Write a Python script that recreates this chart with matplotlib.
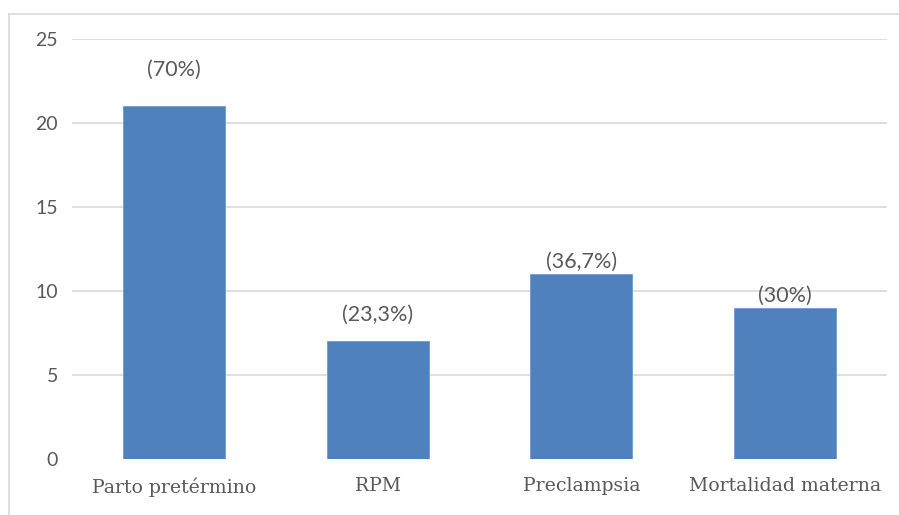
import matplotlib
matplotlib.use("Agg")
import matplotlib.pyplot as plt
from matplotlib.lines import Line2D

categories = ["Parto pretérmino", "RPM", "Preclampsia", "Mortalidad materna"]
counts = [21, 7, 11, 9]
pct_labels = ["(70%)", "(23,3%)", "(36,7%)", "(30%)"]
label_offsets_pt = [26, 19, 8.6, 8.6]  # height of each data label's centre above its bar
y_ticks = [0, 5, 10, 15, 20, 25]

bar_color = "#4f81bd"
text_color = "#595959"
grid_color = "#d9d9d9"

fig = plt.figure(figsize=(8.99, 5.15), dpi=100)
ax = fig.add_axes([72 / 899, 1 - 459 / 515, (887 - 72) / 899, (459 - 39) / 515])

bars = ax.bar(range(len(categories)), counts, width=0.5, color=bar_color,
              edgecolor="#6f9ad0", linewidth=0.6, zorder=3)

ax.set_xlim(-0.5, len(categories) - 0.5)
ax.set_ylim(0, 25)
ax.set_yticks(y_ticks)
ax.set_yticklabels([str(t) for t in y_ticks], fontfamily="Lato", fontsize=14, color=text_color)
ax.set_xticks(range(len(categories)))
ax.set_xticklabels(categories, fontfamily="DejaVu Serif", fontsize=13.6, color=text_color)
ax.tick_params(axis="both", length=0)
ax.tick_params(axis="y", pad=10)
ax.tick_params(axis="x", pad=13)

for s in ax.spines.values():
    s.set_visible(False)

ax.yaxis.grid(True, color=grid_color, linewidth=1.2, zorder=0)
ax.set_axisbelow(True)
ax.get_ygridlines()[0].set_visible(False)

for rect, txt, off in zip(bars, pct_labels, label_offsets_pt):
    ax.annotate(txt, (rect.get_x() + rect.get_width() / 2, rect.get_height()),
                xytext=(0, off), textcoords="offset points", ha="center", va="center",
                fontfamily="Lato", fontsize=15.5, color=text_color)

# light chart-area frame along the top and left edges
fig.add_artist(Line2D([9 / 899, 9 / 899], [0, 1 - 14 / 515], transform=fig.transFigure,
                      color="#d9d9d9", linewidth=1.2))
fig.add_artist(Line2D([9 / 899, 1], [1 - 14 / 515, 1 - 14 / 515], transform=fig.transFigure,
                      color="#d9d9d9", linewidth=1.2))

fig.savefig("out.png", dpi=100, facecolor="white")
